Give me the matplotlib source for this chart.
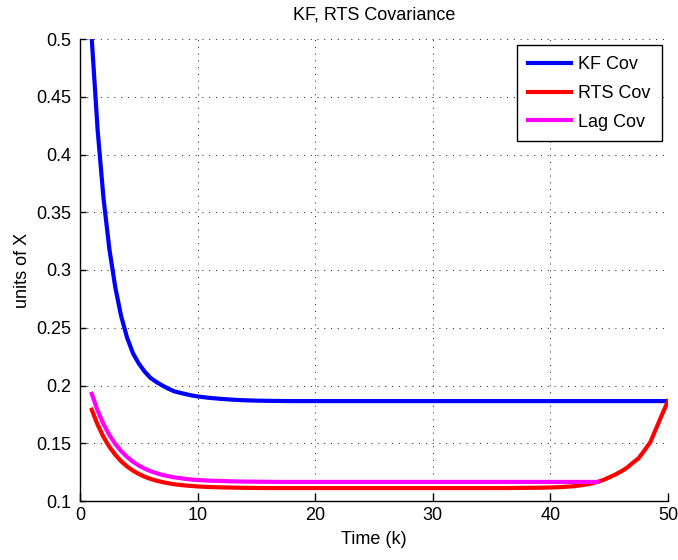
import matplotlib
matplotlib.use("Agg")
import matplotlib.pyplot as plt

plt.rcParams['font.family'] = ['Liberation Sans', 'DejaVu Sans']

# ---- data ----
k_kf = [1, 1.5, 2, 2.5, 3, 3.5, 4, 4.5, 5, 5.5, 6, 6.5, 7, 7.5, 8, 8.5, 9, 9.5, 10,
        11, 12, 13, 14, 15, 16, 17, 18, 19, 20, 21, 22, 23, 24, 25, 26, 27, 28, 29, 30,
        31, 32, 33, 34, 35, 36, 37, 38, 39, 40, 41, 42, 43, 44, 45, 46, 47, 48, 49, 50]
kf_cov = [0.500, 0.421, 0.362, 0.318, 0.285, 0.260, 0.2415, 0.228, 0.219, 0.212,
          0.2065, 0.203, 0.200, 0.1973, 0.195, 0.1937, 0.1925, 0.1914, 0.1905,
          0.1893, 0.1884, 0.1877, 0.1872, 0.1869, 0.1867, 0.1866, 0.1865, 0.1865, 0.1865,
          0.1865, 0.1865, 0.1865, 0.1865, 0.1865, 0.1865, 0.1865, 0.1865, 0.1865, 0.1865,
          0.1865, 0.1865, 0.1865, 0.1865, 0.1865, 0.1865, 0.1865, 0.1865, 0.1865, 0.1865,
          0.1865, 0.1865, 0.1865, 0.1865, 0.1865, 0.1865, 0.1865, 0.1865, 0.1865, 0.1865]

k_rts = [1, 1.5, 2, 2.5, 3, 3.5, 4, 4.5, 5, 5.5, 6, 6.5, 7, 7.5, 8, 8.5, 9, 9.5, 10,
         11, 12, 13, 14, 15, 16, 17, 18, 19, 20, 21, 22, 23, 24, 25, 26, 27, 28, 29, 30,
         31, 32, 33, 34, 35, 36, 37, 38, 39, 40, 41, 42, 43, 43.5, 44, 44.5, 45, 45.5,
         46, 46.5, 47, 47.5, 48, 48.5, 49, 49.5, 50]
rts_cov = [0.179, 0.1660, 0.1554, 0.1469, 0.1400, 0.1344, 0.1299, 0.1263, 0.1234, 0.1210,
           0.1191, 0.1176, 0.1164, 0.1154, 0.1145, 0.1139, 0.1134, 0.1130, 0.1126,
           0.1121, 0.1118, 0.1116, 0.1114, 0.1113, 0.1112, 0.1112, 0.1112, 0.1112, 0.1112,
           0.1112, 0.1112, 0.1112, 0.1112, 0.1112, 0.1112, 0.1112, 0.1112, 0.1112, 0.1112,
           0.1112, 0.1112, 0.1112, 0.1112, 0.1112, 0.1112, 0.1113, 0.1114, 0.1115, 0.1117,
           0.1121, 0.1128, 0.1142, 0.1152, 0.1165, 0.1182, 0.1205, 0.1228,
           0.1255, 0.1287, 0.1330, 0.1370, 0.1438, 0.1510, 0.1630, 0.1750, 0.1865]

k_lag = [1, 1.5, 2, 2.5, 3, 3.5, 4, 4.5, 5, 5.5, 6, 6.5, 7, 7.5, 8, 8.5, 9, 9.5, 10,
         11, 12, 13, 14, 15, 16, 17, 18, 19, 20, 21, 22, 23, 24, 25, 26, 27, 28, 29, 30,
         31, 32, 33, 34, 35, 36, 37, 38, 39, 40, 41, 42, 43, 44]
lag_cov = [0.1928, 0.1783, 0.1666, 0.1571, 0.1495, 0.1432, 0.1382, 0.1340, 0.1307, 0.1280,
           0.1258, 0.1241, 0.1226, 0.1215, 0.1205, 0.1198, 0.1191, 0.1186, 0.1182,
           0.1176, 0.1173, 0.1170, 0.1168, 0.1167, 0.1166, 0.1165, 0.1165, 0.1165, 0.1165,
           0.1165, 0.1165, 0.1165, 0.1165, 0.1165, 0.1165, 0.1165, 0.1165, 0.1165, 0.1165,
           0.1165, 0.1165, 0.1165, 0.1165, 0.1165, 0.1165, 0.1165, 0.1165, 0.1165, 0.1165,
           0.1165, 0.1165, 0.1165, 0.1165]

x_ticks = [0, 10, 20, 30, 40, 50]
y_ticks = [0.1, 0.15, 0.2, 0.25, 0.3, 0.35, 0.4, 0.45, 0.5]
y_tick_labels = ['0.1', '0.15', '0.2', '0.25', '0.3', '0.35', '0.4', '0.45', '0.5']
series_labels = ['KF Cov', 'RTS Cov', 'Lag Cov']

# ---- figure ----
fig = plt.figure(figsize=(6.78, 5.6), dpi=100)
ax = fig.add_axes([80/678, 59/560, 588/678, 462/560])

ax.plot(k_kf, kf_cov, color='#0000ff', lw=3, label=series_labels[0], solid_joinstyle='round')
ax.plot(k_rts, rts_cov, color='#ff0000', lw=3, label=series_labels[1], solid_joinstyle='round')
ax.plot(k_lag, lag_cov, color='#ff00ff', lw=3, label=series_labels[2], solid_joinstyle='round')

ax.set_xlim(0, 50)
ax.set_ylim(0.1, 0.5)
ax.set_xticks(x_ticks)
ax.set_yticks(y_ticks)
ax.set_yticklabels(y_tick_labels)

ax.grid(True, color='#303030', linestyle=(0, (1, 5.5)), lw=0.75)
ax.set_axisbelow(True)

for s in ['top', 'right']:
    ax.spines[s].set_visible(False)
for s in ['left', 'bottom']:
    ax.spines[s].set_linewidth(1.0)
    ax.spines[s].set_color('black')

ax.tick_params(axis='x', direction='in', length=6, width=1, labelsize=13, pad=4)
ax.tick_params(axis='y', direction='in', length=4.5, width=1, labelsize=13, pad=6)

ax.set_title('KF, RTS Covariance', fontsize=13, pad=14)
ax.set_xlabel('Time (k)', fontsize=13, labelpad=5)
ax.set_ylabel('units of X', fontsize=13, labelpad=4)

leg = ax.legend(loc='upper right', fontsize=13, frameon=True, fancybox=False,
                edgecolor='black', framealpha=1, borderaxespad=0.35,
                handlelength=2.4, labelspacing=0.65, handletextpad=0.4, borderpad=0.6)
leg.get_frame().set_linewidth(1.0)

fig.savefig('out.png', dpi=100)
